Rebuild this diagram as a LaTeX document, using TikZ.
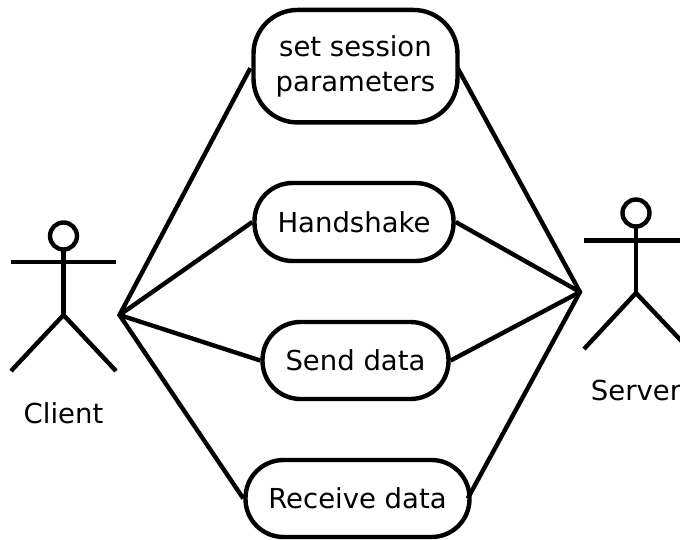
\documentclass[tikz,border=0pt]{standalone}
\usepackage{fontspec}
\setmainfont{DejaVu Sans}
\tikzset{
  usecase/.style={draw=black,line width=4.4pt,fill=white,rounded corners=#1,inner sep=0pt,align=center,font=\fontsize{27.5}{35}\selectfont,text=black},
  usecase/.default=38pt,
  link/.style={draw=black,line width=4.4pt},
  limb/.style={draw=black,line width=4.4pt},
  head/.style={draw=black,line width=4.4pt,circle,fill=white,minimum size=27pt,inner sep=0pt},
  actorlabel/.style={font=\fontsize{27.5}{34}\selectfont,text=black,inner sep=0pt}
}
\begin{document}
\begin{tikzpicture}[x=1pt,y=-1pt]
\useasboundingbox (0,0) rectangle (680,540);
% use cases
\node[usecase=44pt,minimum width=204pt,minimum height=112.5pt] (params) at (355.5,66.2) {set session\\parameters};
\node[usecase,minimum width=199pt,minimum height=78pt] (hand) at (354,222) {Handshake};
\node[usecase,minimum width=186pt,minimum height=77pt] (send) at (355.5,360.5) {Send data};
\node[usecase,minimum width=224pt,minimum height=77pt] (recv) at (357.5,498.5) {Receive data};
% client actor
\node[head] (chead) at (63.5,236) {};
\coordinate (chip) at (63.5,315);
\coordinate (carml) at (11,262);
\coordinate (carmr) at (116,262);
\coordinate (clegl) at (11,371);
\coordinate (clegr) at (116,371);
\draw[limb] (chead) ++(0,13.5) -- (chip);
\draw[limb] (carml) -- (carmr);
\draw[limb] (clegl) -- (chip) -- (clegr);
\node[actorlabel] (clabel) at (63.5,413) {Client};
% server actor
\node[head] (shead) at (636,213) {};
\coordinate (ship) at (636,293);
\coordinate (sarml) at (584,240.5);
\coordinate (sarmr) at (689,240.5);
\coordinate (slegl) at (584,349);
\coordinate (slegr) at (689,349);
\draw[limb] (shead) ++(0,13.5) -- (ship);
\draw[limb] (sarml) -- (sarmr);
\draw[limb] (slegl) -- (ship) -- (slegr);
\node[actorlabel] (slabel) at (636,390) {Server};
% connectors
\coordinate (chub) at (119.5,315);
\coordinate (shub) at (580,292);
\draw[link,line join=bevel] (hand.west) -- (chub) -- (send.west);
\draw[link] ([xshift=-1pt,yshift=-2pt]params.west) -- (chub) -- (recv.west);
\draw[link,line join=bevel] (hand.east) -- (shub) -- (send.east);
\draw[link] ([xshift=-2pt,yshift=-2pt]params.east) -- (shub) -- ([xshift=-4pt]recv.east);
\end{tikzpicture}
\end{document}
